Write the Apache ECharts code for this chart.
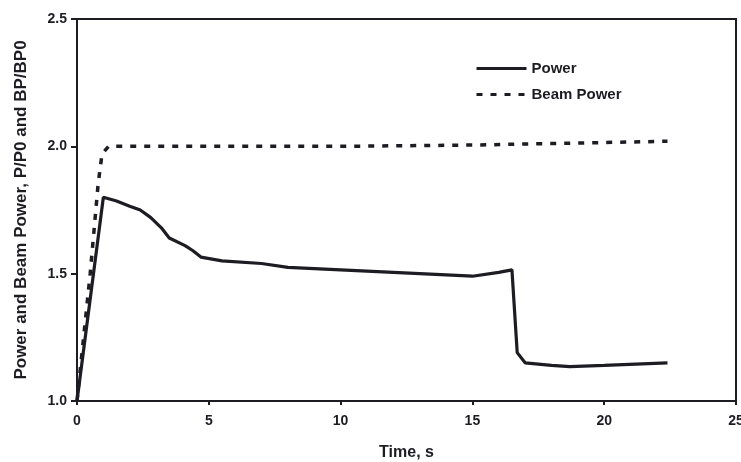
<!DOCTYPE html>
<html>
<head>
<meta charset="utf-8">
<script src="https://cdn.jsdelivr.net/npm/echarts@6/dist/echarts.min.js"></script>
<style>
  html, body { margin: 0; padding: 0; background: #fff; }
  #chart { width: 741px; height: 462px; }
</style>
</head>
<body>
<div id="chart"></div>
<script>
// Reactor power transient: relative power and relative beam power vs time
const powerTime  = [0, 1.0, 1.5, 2.0, 2.4, 2.8, 3.2, 3.5, 4.1, 4.4, 4.7, 5.5, 7.0, 8.0, 10.0, 12.0, 14.0, 15.0, 16.0, 16.5, 16.7, 17.0, 18.0, 18.7, 20.0, 22.4];
const powerValue = [1.0, 1.80, 1.785, 1.765, 1.75, 1.72, 1.68, 1.64, 1.61, 1.59, 1.565, 1.55, 1.54, 1.525, 1.515, 1.505, 1.495, 1.49, 1.505, 1.515, 1.19, 1.15, 1.14, 1.135, 1.14, 1.15];

const beamTime  = [0, 0.5, 0.8, 0.95, 1.2, 5.0, 10.0, 15.0, 20.0, 22.4];
const beamValue = [1.0, 1.5, 1.85, 1.97, 2.0, 2.0, 2.0, 2.005, 2.015, 2.02];

const xTicks = [0, 5, 10, 15, 20, 25];
const yTicks = [1.0, 1.5, 2.0, 2.5];

const ink = '#1c1c22';
const font = 'Liberation Sans, Arial, sans-serif';

const pairs = (xs, ys) => xs.map((x, i) => [x, ys[i]]);

const chart = echarts.init(document.getElementById('chart'), null, { renderer: 'canvas' });
chart.setOption({
  backgroundColor: '#ffffff',
  animation: false,
  grid: { left: 77, right: 5, top: 19, bottom: 61, show: true, borderColor: ink, borderWidth: 2,
    containLabel: false, outerBoundsMode: 'none' },
  legend: {
    left: 470, top: 56, orient: 'vertical', itemGap: 11,
    itemWidth: 50, itemHeight: 14,
    itemStyle: { opacity: 0 },
    lineStyle: { width: 3 },
    textStyle: { color: ink, fontFamily: font, fontWeight: 'bold', fontSize: 15 },
    data: ['Power', 'Beam Power']
  },
  xAxis: {
    type: 'value', min: xTicks[0], max: xTicks[xTicks.length - 1], interval: 5,
    name: 'Time, s', nameLocation: 'middle', nameGap: 44,
    nameTextStyle: { color: ink, fontFamily: font, fontWeight: 'bold', fontSize: 16 },
    axisLine: { lineStyle: { color: ink, width: 2 } },
    axisTick: { show: true, length: 4, lineStyle: { color: ink, width: 2 } },
    axisLabel: { color: ink, fontFamily: font, fontWeight: 'bold', fontSize: 14, margin: 13 },
    splitLine: { show: false }
  },
  yAxis: {
    type: 'value', min: yTicks[0], max: yTicks[yTicks.length - 1], interval: 0.5,
    name: 'Power and Beam Power, P/P0 and BP/BP0', nameLocation: 'middle', nameGap: 47,
    nameTextStyle: { color: ink, fontFamily: font, fontWeight: 'bold', fontSize: 17 },
    axisLine: { lineStyle: { color: ink, width: 2 } },
    axisTick: { show: true, length: 6, lineStyle: { color: ink, width: 2 } },
    axisLabel: { color: ink, fontFamily: font, fontWeight: 'bold', fontSize: 14, margin: 10,
      formatter: v => v.toFixed(1) },
    splitLine: { show: false }
  },
  series: [
    {
      name: 'Power', type: 'line', showSymbol: false, symbol: 'none',
      data: pairs(powerTime, powerValue),
      lineStyle: { color: ink, width: 3.2 },
      itemStyle: { color: ink }
    },
    {
      name: 'Beam Power', type: 'line', showSymbol: false, symbol: 'none',
      data: pairs(beamTime, beamValue),
      lineStyle: { color: ink, width: 3.5, type: [6, 8] },
      itemStyle: { color: ink }
    }
  ]
});
</script>
</body>
</html>
